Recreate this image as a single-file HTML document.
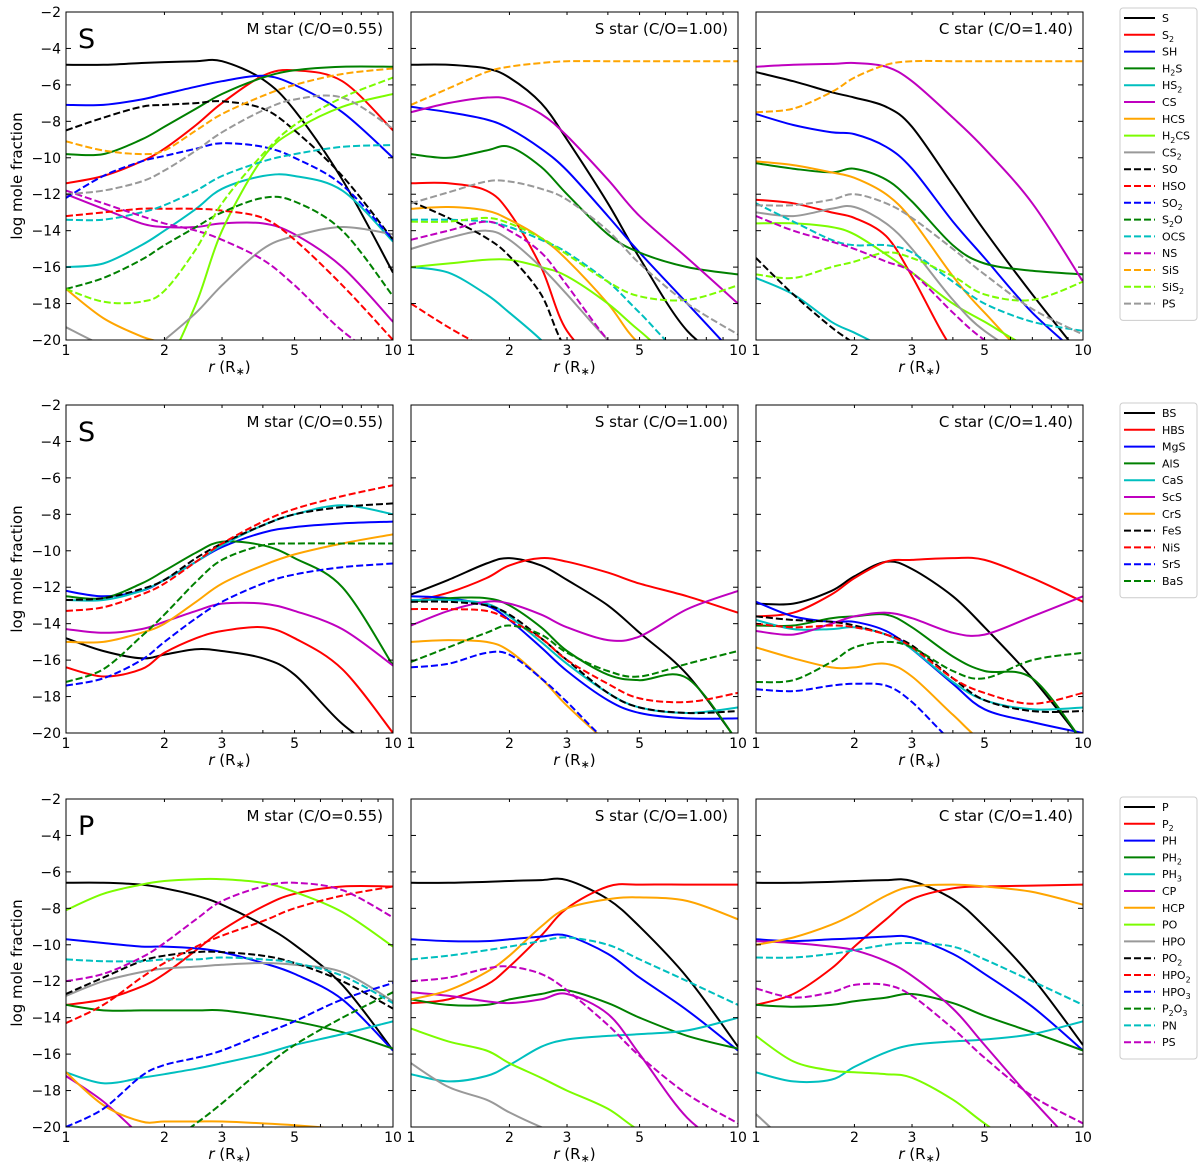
<!DOCTYPE html>
<html><head><meta charset="utf-8">
<style>
html,body{margin:0;padding:0;background:#fff;width:1200px;height:1168px;overflow:hidden;}
svg{display:block;font-family:"DejaVu Sans","Liberation Sans",sans-serif;}
</style></head>
<body>
<svg id="fig" width="1200" height="1168" viewBox="0 0 1200 1168" xmlns="http://www.w3.org/2000/svg"></svg>
<script>
// ---- data ----
const rGrid = [1,1.3,1.7,2,2.5,3,4,5,7,10];
const yTicks = [-2,-4,-6,-8,-10,-12,-14,-16,-18,-20];
const xTickLabels = [1,2,3,5,10];
const panelTitles = ["M star (C/O=0.55)","S star (C/O=1.00)","C star (C/O=1.40)"];
const rowLetters = ["S","S","P"];

const sSpecies = ["S","S_2","SH","H_2S","HS_2","CS","HCS","H_2CS","CS_2","SO","HSO","SO_2","S_2O","OCS","NS","SiS","SiS_2","PS"];
const bSpecies = ["BS","HBS","MgS","AlS","CaS","ScS","CrS","FeS","NiS","SrS","BaS"];
const pSpecies = ["P","P_2","PH","PH_2","PH_3","CP","HCP","PO","HPO","PO_2","HPO_2","HPO_3","P_2O_3","PN","PS"];
const sStyles = ["k-","r-","b-","g-","c-","m-","o-","l-","y-","k--","r--","b--","g--","c--","m--","o--","l--","y--"];
const bStyles = ["k-","r-","b-","g-","c-","m-","o-","k--","r--","b--","g--"];
const pStyles = ["k-","r-","b-","g-","c-","m-","o-","l-","y-","k--","r--","b--","g--","c--","m--"];

const N = -26;
const sM = [
[-4.9,-4.9,-4.8,-4.75,-4.7,-4.7,-5.7,-7.4,-11.2,-16.3],
[-11.4,-11,-10.2,-9.5,-8.2,-7,-5.5,-5.2,-5.8,-8.5],
[-7.1,-7.1,-6.8,-6.5,-6.1,-5.8,-5.5,-6.0,-7.5,-10],
[-9.8,-9.8,-9.0,-8.3,-7.3,-6.5,-5.6,-5.2,-5.0,-5.0],
[-16,-15.8,-14.8,-14,-12.8,-11.7,-11,-11,-11.8,-14.6],
[-12,-12.8,-13.6,-13.8,-13.8,-13.6,-13.6,-14.2,-16,-19],
[-17.2,-18.8,-19.8,-20.2,-21,-22,-23,-24,-25,-26],
[N,N,-24,-22,-18,-14,-10,-8.5,-7.2,-6.5],
[-19.3,-20.3,-21,-20,-18.5,-17,-15,-14.3,-13.8,-14.2],
[-8.5,-7.8,-7.2,-7.1,-7,-6.9,-7.3,-8.5,-11,-14.5],
[-13.2,-13.0,-12.8,-12.8,-12.8,-12.9,-13.3,-14.5,-17,-20],
[-12.2,-11,-10.2,-9.9,-9.5,-9.2,-9.4,-10,-11.5,-14.5],
[-17.2,-16.6,-15.6,-14.8,-13.8,-13,-12.2,-12.4,-14,-17.6],
[-13.4,-13.4,-13,-12.6,-11.8,-11,-10.2,-9.8,-9.4,-9.3],
[-11.8,-12.5,-13.2,-13.6,-14,-14.5,-15.6,-17,-19.5,-22],
[-9.1,-9.6,-9.8,-9.6,-8.5,-7.6,-6.6,-6.0,-5.4,-5.1],
[-17.2,-17.9,-17.9,-17.3,-15,-12.5,-9.8,-8.2,-6.7,-5.6],
[-12,-11.8,-11.3,-10.7,-9.6,-8.6,-7.4,-6.8,-6.7,-8.4]];
const sS = [
[-4.9,-4.9,-5.1,-5.6,-7,-9,-12.5,-15.5,-19.5,-24],
[-11.4,-11.4,-11.8,-13,-16,-19.5,-25,N,N,N],
[-7.2,-7.5,-7.9,-8.4,-9.5,-10.7,-13.2,-15.2,-18,-21],
[-9.8,-10,-9.6,-9.4,-10.5,-12,-14.2,-15.2,-16,-16.4],
[-16,-16.3,-17.5,-18.5,-20,-22,N,N,N,N],
[-7.5,-7,-6.7,-6.8,-7.6,-8.8,-11.2,-13.2,-15.5,-18],
[-12.8,-12.7,-12.9,-13.4,-14.4,-15.6,-18,-20.2,-23,N],
[-16,-15.8,-15.6,-15.6,-16,-16.5,-18,-19.5,-22,N],
[-15,-14.4,-14,-14.5,-16,-17.5,-20,-22,N,N],
[-12.4,-13.3,-14.4,-15.4,-17.5,-20.5,N,N,N,N],
[-18,-19.3,-20.5,-22,N,N,N,N,N,N],
[N,N,N,N,N,N,N,N,N,N],
[N,N,N,N,N,N,N,N,N,N],
[-13.4,-13.4,-13.5,-13.8,-14.5,-15.2,-16.8,-18.5,-21,N],
[-14.5,-14,-13.5,-14,-15.2,-17,-20,-23,N,N],
[-7.1,-6.2,-5.3,-5,-4.8,-4.7,-4.7,-4.7,-4.7,-4.7],
[-13.5,-13.5,-13.3,-13.6,-14.4,-15.3,-16.8,-17.6,-17.8,-17],
[-12.5,-11.9,-11.3,-11.3,-11.7,-12.3,-14,-15.8,-18,-19.7]];
const sC = [
[-5.3,-5.8,-6.4,-6.7,-7.2,-8.3,-11.5,-14,-17.5,-21],
[-12.3,-12.5,-13,-13.3,-14.3,-16.5,-20.5,-24,N,N],
[-7.6,-8.2,-8.6,-8.7,-9.4,-10.6,-13.5,-15.5,-18.5,-21],
[-10.3,-10.6,-10.8,-10.6,-11.2,-12.4,-14.8,-15.8,-16.2,-16.4],
[-16.6,-17.5,-19,-19.6,-20.5,-22,N,N,N,N],
[-5,-4.9,-4.85,-4.8,-5.0,-5.8,-7.8,-9.5,-12.5,-16.8],
[-10.2,-10.4,-10.8,-11.1,-12,-13.4,-16.5,-18.5,-21,N],
[-13.6,-13.6,-13.8,-14.2,-15.3,-16.3,-18,-19,-20.5,-22],
[-13,-13.2,-12.8,-12.7,-13.6,-15,-17.8,-19.5,-21,N],
[-15.5,-17.5,-19.3,-20.2,-22,N,N,N,N,N],
[N,N,N,N,N,N,N,N,N,N],
[N,N,N,N,N,N,N,N,N,N],
[N,N,N,N,N,N,N,N,N,N],
[-12.5,-13.5,-14.5,-14.8,-14.8,-15.2,-16.8,-18,-19,-19.5],
[-13.2,-14,-14.6,-15,-15.7,-16.3,-18.5,-20,-23,N],
[-7.5,-7.3,-6.4,-5.6,-4.9,-4.7,-4.7,-4.7,-4.7,-4.7],
[-16.4,-16.6,-16,-15.7,-15.2,-15.5,-16.5,-17.5,-17.8,-16.8],
[-12.6,-12.6,-12.3,-12,-12.5,-13.3,-15,-16.4,-18.3,-19.7]];

const bM = [
[-14.8,-15.5,-15.9,-15.7,-15.4,-15.5,-15.9,-16.8,-19.5,-23],
[-16.4,-16.9,-16.5,-15.6,-14.8,-14.4,-14.2,-14.8,-16.5,-20],
[-12.2,-12.5,-12.2,-11.6,-10.6,-9.8,-9.0,-8.7,-8.5,-8.4],
[-12.5,-12.6,-11.8,-11.1,-10.1,-9.5,-9.7,-10.4,-12,-16.3],
[-12.7,-12.7,-12.2,-11.6,-10.6,-9.7,-8.6,-8.0,-7.5,-8.0],
[-14.3,-14.5,-14.3,-13.9,-13.3,-12.9,-12.9,-13.3,-14.3,-16.3],
[-15,-15,-14.5,-14,-12.8,-11.8,-10.8,-10.2,-9.6,-9.1],
[-12.7,-12.6,-12.1,-11.6,-10.4,-9.6,-8.6,-8,-7.6,-7.4],
[-13.3,-13.1,-12.4,-11.8,-10.6,-9.6,-8.4,-7.7,-7.0,-6.4],
[-17.4,-17,-16,-15,-13.7,-12.8,-11.8,-11.3,-10.9,-10.7],
[-17.2,-16.5,-14.7,-13.5,-11.7,-10.5,-9.7,-9.6,-9.6,-9.6]];
const bS = [
[-12.4,-11.6,-10.7,-10.4,-10.8,-11.6,-13,-14.5,-16.8,-20.5],
[-12.8,-12.3,-11.5,-10.8,-10.4,-10.6,-11.2,-11.8,-12.5,-13.4],
[-12.5,-12.6,-13,-13.8,-15.3,-16.6,-18.2,-18.9,-19.2,-19.2],
[-12.8,-12.6,-12.6,-13,-14.2,-15.5,-16.8,-17.1,-17,-20.5],
[-12.7,-12.7,-12.9,-13.6,-15,-16.2,-17.8,-18.6,-18.9,-18.6],
[-14.1,-13.3,-12.8,-12.9,-13.5,-14.2,-14.9,-14.7,-13.2,-12.2],
[-15,-14.9,-15,-15.5,-17,-18.5,-20.5,-22,N,N],
[-12.8,-12.8,-13.0,-13.5,-14.8,-16,-17.8,-18.6,-18.9,-18.8],
[-13.2,-13.2,-13.3,-13.8,-14.8,-16,-17.3,-18.1,-18.3,-17.8],
[-16.4,-16.2,-15.6,-15.7,-17,-18.3,-20.5,-22,N,N],
[-16.1,-15.3,-14.5,-14.1,-14.6,-15.6,-16.6,-16.9,-16.2,-15.5]];
const bC = [
[-12.9,-12.9,-12.2,-11.4,-10.6,-11.0,-12.5,-14.2,-17,-20.5],
[-13.6,-13.4,-12.4,-11.5,-10.6,-10.5,-10.4,-10.5,-11.5,-12.8],
[-12.8,-13.6,-13.9,-13.9,-14.4,-15.4,-17.3,-18.7,-19.4,-20],
[-14.1,-14.1,-13.7,-13.6,-13.5,-14.2,-15.8,-16.6,-17,-20.5],
[-13.8,-14.3,-14.3,-14.2,-14.6,-15.4,-17.2,-18.2,-18.7,-18.6],
[-14.4,-14.6,-14,-13.6,-13.4,-13.7,-14.5,-14.6,-13.6,-12.5],
[-15.3,-15.9,-16.4,-16.4,-16.2,-16.9,-19,-20.5,-23,N],
[-13.6,-13.8,-13.9,-14.1,-14.6,-15.2,-17,-18.2,-18.8,-18.8],
[-14,-14.2,-14.1,-14.2,-14.6,-15.3,-17,-17.8,-18.4,-17.8],
[-17.6,-17.7,-17.4,-17.3,-17.4,-18.3,-20.5,-22,N,N],
[-17.2,-17.1,-16.1,-15.3,-15,-15.3,-16.6,-17,-16,-15.6]];

const pM = [
[-6.6,-6.6,-6.7,-6.9,-7.3,-7.8,-8.9,-10.0,-12.2,-15.8],
[-13.3,-13,-12.3,-11.6,-10.3,-9.2,-7.9,-7.2,-6.8,-6.8],
[-9.7,-9.9,-10.1,-10.1,-10.2,-10.4,-11,-11.6,-13,-15.8],
[-13.3,-13.6,-13.6,-13.6,-13.6,-13.6,-13.9,-14.2,-14.8,-15.7],
[-17.0,-17.6,-17.3,-17.1,-16.8,-16.5,-16,-15.5,-14.9,-14.2],
[-17.2,-18.6,-20.5,-22,N,N,N,N,N,N],
[-17,-18.8,-19.7,-19.7,-19.7,-19.7,-19.8,-19.9,-20.1,-20.3],
[-8.1,-7.2,-6.7,-6.5,-6.4,-6.4,-6.6,-7.1,-8.2,-10.1],
[-12.8,-12,-11.5,-11.3,-11.2,-11.1,-11,-11.1,-11.5,-13.1],
[-12.7,-11.8,-10.9,-10.6,-10.4,-10.4,-10.6,-11,-12,-13.5],
[-14.3,-13.3,-11.8,-11,-10.1,-9.5,-8.7,-8,-7.3,-6.8],
[-20,-19,-17.2,-16.6,-16.2,-15.8,-14.9,-14.2,-13,-12.1],
[-25,-23.5,-22,-21,-19.8,-18.7,-16.8,-15.5,-14,-12.6],
[-10.8,-10.9,-10.9,-10.8,-10.8,-10.7,-10.8,-11,-11.7,-13.2],
[-12,-11.6,-10.7,-9.9,-8.6,-7.6,-6.8,-6.6,-7,-8.5]];
const pS = [
[-6.6,-6.6,-6.55,-6.5,-6.45,-6.45,-7.5,-9,-11.8,-15.6],
[-13.2,-13,-12.2,-11.2,-9.5,-8,-6.8,-6.7,-6.7,-6.7],
[-9.7,-9.8,-9.8,-9.7,-9.55,-9.5,-10.5,-11.8,-13.6,-15.8],
[-13,-13.3,-13.3,-13.0,-12.7,-12.5,-13.2,-14,-15,-15.7],
[-17.1,-17.5,-17.2,-16.6,-15.6,-15.2,-15.0,-14.9,-14.7,-14.0],
[-12.6,-12.8,-13.1,-13.2,-13,-12.7,-13.8,-16,-19.5,-23],
[-13,-12.5,-11.5,-10.6,-9.0,-8.0,-7.5,-7.4,-7.6,-8.6],
[-14.6,-15.3,-15.8,-16.5,-17.3,-18,-19,-20.2,-22,N],
[-16.5,-17.8,-18.5,-19.2,-20,-20.5,-22,N,N,N],
[N,N,N,N,N,N,N,N,N,N],
[N,N,N,N,N,N,N,N,N,N],
[N,N,N,N,N,N,N,N,N,N],
[N,N,N,N,N,N,N,N,N,N],
[-10.8,-10.6,-10.3,-10.1,-9.8,-9.6,-10,-10.8,-12,-13.3],
[-12,-11.8,-11.3,-11.2,-11.6,-12.5,-14.4,-16.1,-18.2,-19.8]];
const pC = [
[-6.6,-6.6,-6.55,-6.5,-6.45,-6.5,-7.5,-9,-11.8,-15.5],
[-13.3,-12.7,-11.3,-10.1,-8.6,-7.5,-6.9,-6.8,-6.75,-6.7],
[-9.7,-9.8,-9.7,-9.65,-9.55,-9.6,-10.5,-11.6,-13.4,-15.8],
[-13.3,-13.4,-13.3,-13.1,-12.9,-12.7,-13.2,-13.9,-14.8,-15.8],
[-17,-17.5,-17.4,-16.7,-15.9,-15.5,-15.3,-15.2,-14.9,-14.2],
[-9.8,-9.9,-10.1,-10.3,-10.9,-11.7,-13.5,-15.5,-18.5,-23],
[-10,-9.6,-8.9,-8.3,-7.3,-6.8,-6.7,-6.8,-7.1,-7.8],
[-15,-16.4,-16.9,-17,-17.1,-17.3,-18.5,-19.8,-22,N],
[-19.3,-21,-23,N,N,N,N,N,N,N],
[N,N,N,N,N,N,N,N,N,N],
[N,N,N,N,N,N,N,N,N,N],
[N,N,N,N,N,N,N,N,N,N],
[N,N,N,N,N,N,N,N,N,N],
[-10.7,-10.7,-10.5,-10.3,-10,-9.9,-10.1,-10.8,-12,-13.3],
[-12.4,-12.9,-12.6,-12.2,-12.2,-12.8,-14.6,-16.2,-18.3,-19.8]];

// ---- drawing ----
const svg = document.getElementById('fig');
const NS_ = 'http://www.w3.org/2000/svg';
const COLORS = {k:'#000000',r:'#ff0000',b:'#0000ff',g:'#008000',c:'#00bfbf',m:'#bf00bf',o:'#ffa500',l:'#7cfc00',y:'#999999'};
const colX = [66,411,756], PW = 327, rowY = [12,405,799], PH = 328;
function mk(tag, attrs, parent){const e=document.createElementNS(NS_,tag);for(const k in attrs)e.setAttribute(k,attrs[k]);(parent||svg).appendChild(e);return e;}
function xs(col,r){return colX[col]+Math.log10(r)*PW;}
function ys(row,v){const c=Math.min(-0.5,Math.max(-21.5,v));return rowY[row]+(-2-c)/18*PH;}
function smooth(pts){
  let d='M'+pts[0][0].toFixed(1)+','+pts[0][1].toFixed(1);
  for(let i=0;i<pts.length-1;i++){
    const p0=pts[Math.max(0,i-1)],p1=pts[i],p2=pts[i+1],p3=pts[Math.min(pts.length-1,i+2)];
    const c1=[p1[0]+(p2[0]-p0[0])/6,p1[1]+(p2[1]-p0[1])/6];
    const c2=[p2[0]-(p3[0]-p1[0])/6,p2[1]-(p3[1]-p1[1])/6];
    d+=' C'+c1.map(v=>v.toFixed(1))+' '+c2.map(v=>v.toFixed(1))+' '+p2[0].toFixed(1)+','+p2[1].toFixed(1);
  }
  return d;
}
function setLabel(t,label,size){
  const parts=label.split('_');
  t.appendChild(document.createTextNode(parts[0]));
  for(let i=1;i<parts.length;i++){
    const sub=parts[i].charAt(0), rest=parts[i].slice(1);
    const ts=document.createElementNS(NS_,'tspan');ts.setAttribute('dy',size*0.3);ts.setAttribute('font-size',size*0.72);ts.textContent=sub;t.appendChild(ts);
    const ts2=document.createElementNS(NS_,'tspan');ts2.setAttribute('dy',-size*0.3);ts2.textContent=rest||'\u200b';t.appendChild(ts2);
  }
}
const rows = [
 {species:sSpecies, styles:sStyles, data:[sM,sS,sC], legend:{y:8,step:16.8}},
 {species:bSpecies, styles:bStyles, data:[bM,bS,bC], legend:{y:403,step:16.8}},
 {species:pSpecies, styles:pStyles, data:[pM,pS,pC], legend:{y:797,step:16.8}}];
const defs = mk('defs',{});
rows.forEach((row,ri)=>{
  for(let ci=0;ci<3;ci++){
    const g=mk('g',{});
    
    
    const cp=mk('clipPath',{id:'c'+ri+ci},defs);
    mk('rect',{x:colX[ci],y:rowY[ri],width:PW,height:PH},cp);
    const lines=mk('g',{'clip-path':'url(#c'+ri+ci+')'},g);
    row.data[ci].forEach((vals,si)=>{
      const st=row.styles[si];
      const pts=rGrid.map((r,k)=>[xs(ci,r),ys(ri,vals[k])]);
      const p=mk('path',{d:smooth(pts),fill:'none',stroke:COLORS[st[0]],'stroke-width':2,'stroke-dasharray':st.endsWith('--')?'7,3':'none'},lines);
      
      
    });
    mk('rect',{x:colX[ci],y:rowY[ri],width:PW,height:PH,fill:'none',stroke:'#000','stroke-width':1},g);
    yTicks.forEach(v=>{
      const y=ys(ri,v);
      mk('line',{x1:colX[ci],x2:colX[ci]+5,y1:y,y2:y,stroke:'#000'},g);
      mk('line',{x1:colX[ci]+PW,x2:colX[ci]+PW-5,y1:y,y2:y,stroke:'#000'},g);
      if(ci===0){const t=mk('text',{x:colX[ci]-5,y:y+5,'text-anchor':'end','font-size':14},g);t.textContent=(v<0?'\u2212':'')+Math.abs(v);
        }
    });
    for(let r=1;r<=10;r++){
      const x=xs(ci,r);
      mk('line',{x1:x,x2:x,y1:rowY[ri]+PH,y2:rowY[ri]+PH-(r===1||r===10?5:3),stroke:'#000'},g);
      mk('line',{x1:x,x2:x,y1:rowY[ri],y2:rowY[ri]+(r===1||r===10?5:3),stroke:'#000'},g);
    }
    xTickLabels.forEach(r=>{
      const t=mk('text',{x:xs(ci,r),y:rowY[ri]+PH+15,'text-anchor':'middle','font-size':14},g);t.textContent=r;
      
    });
    const xl=mk('text',{x:colX[ci]+PW/2,y:rowY[ri]+PH+32,'text-anchor':'middle','font-size':15},g);
    xl.innerHTML='<tspan font-style="italic">r</tspan> (R<tspan font-size="11" dy="3">\u2217</tspan><tspan dy="-3">)</tspan>';
    
    const tt=mk('text',{x:colX[ci]+PW-10,y:rowY[ri]+22,'text-anchor':'end','font-size':15},g);tt.textContent=panelTitles[ci];
    
    if(ci===0){
      const L=mk('text',{x:colX[0]+12,y:rowY[ri]+36,'font-size':27},g);L.textContent=rowLetters[ri];
      
      const yl=mk('text',{x:22,y:rowY[ri]+PH/2,'text-anchor':'middle','font-size':15,transform:'rotate(-90 22 '+(rowY[ri]+PH/2)+')'},g);yl.textContent='log mole fraction';
      
    }
  }
  const lg=mk('g',{});
  
  
  const n=row.species.length;
  mk('rect',{x:1120,y:row.legend.y,width:77,height:n*row.legend.step+10,rx:3,fill:'#fff',stroke:'#ccc'},lg);
  row.species.forEach((s,si)=>{
    const y=row.legend.y+10+si*row.legend.step;
    const st=row.styles[si];
    mk('line',{x1:1124,x2:1155,y1:y,y2:y,stroke:COLORS[st[0]],'stroke-width':2,'stroke-dasharray':st.endsWith('--')?'7,3':'none'},lg);
    const t=mk('text',{x:1162,y:y+4,'font-size':11},lg);setLabel(t,s,11);
    
  });
});
</script>
</body></html>
